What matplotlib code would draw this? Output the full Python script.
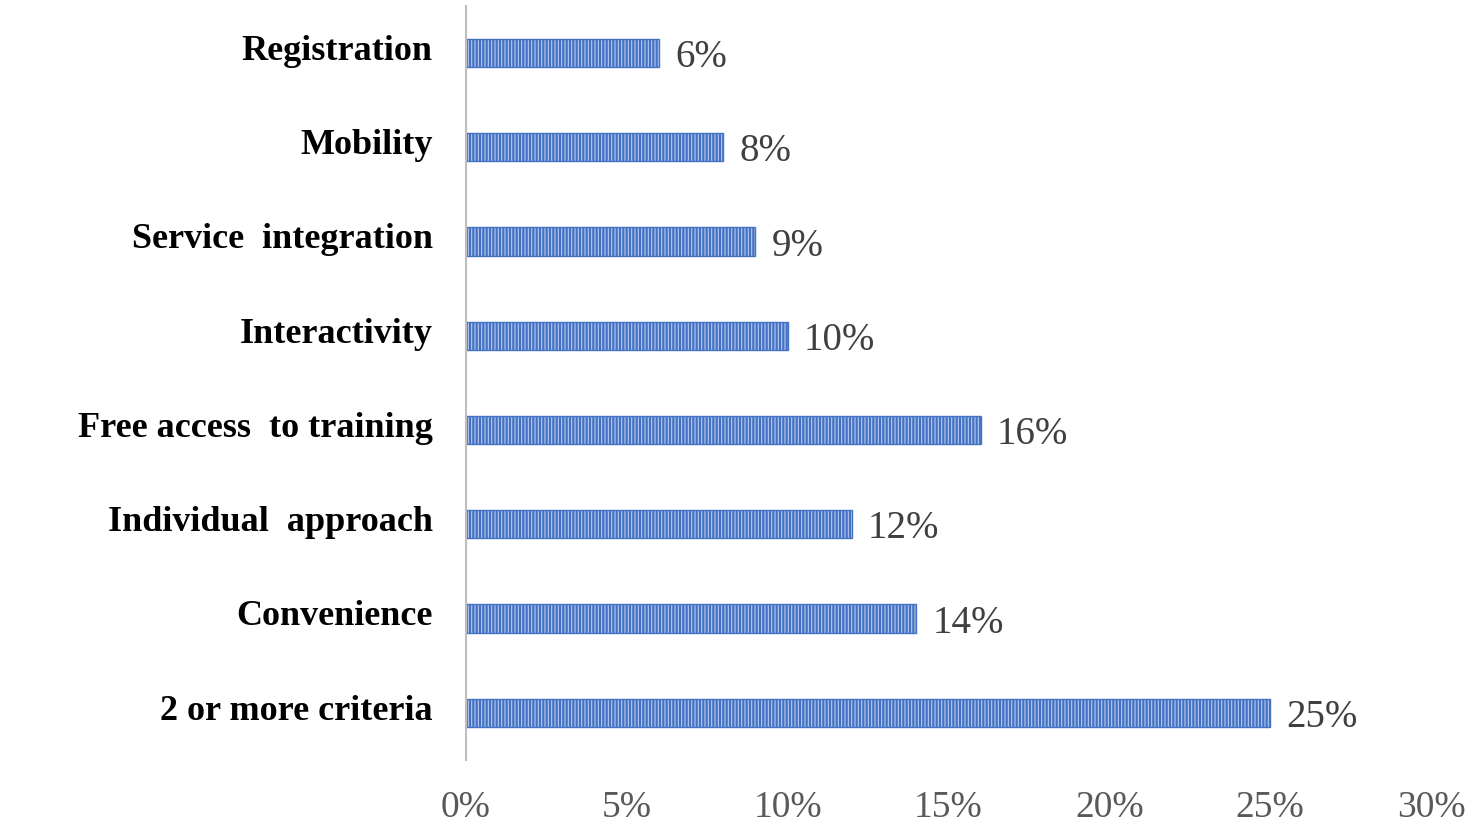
import matplotlib.pyplot as plt
import numpy as np

categories = ['2 or more criteria', 'Convenience', 'Individual  approach',
              'Free access  to training', 'Interactivity', 'Service  integration',
              'Mobility', 'Registration']
values = [25, 14, 12, 16, 10, 9, 8, 6]
xticks = [0, 5, 10, 15, 20, 25, 30]

plt.rcParams['font.family'] = ['Liberation Serif', 'DejaVu Serif']
plt.rcParams['hatch.linewidth'] = 0.8

fig = plt.figure(figsize=(14.76, 8.26), dpi=100)
ax = fig.add_axes([0.3157, 0.080, 0.6538, 0.913])

y = np.arange(len(categories))
ax.barh(y, values, height=0.3, color='#4472c4', edgecolor='#b8cbef',
        hatch='|||||', linewidth=0)
ax.barh(y, values, height=0.3, facecolor='none', edgecolor='#4472c4',
        linewidth=1.0)

for yi, v in zip(y, values):
    ax.text(v + 0.5, yi - 0.05, f'{v}%', va='center', ha='left',
            fontsize=28, color='#404040')

# category labels, sitting a little above the bar centres
for yi, name in zip(y, categories):
    ax.annotate(name, xy=(0, yi), xycoords=('axes fraction', 'data'),
                xytext=(-24, 4), textcoords='offset points',
                ha='right', va='center_baseline', fontsize=26,
                fontweight='bold', color='black')

ax.set_xlim(0, 30)
ax.set_ylim(-0.5, 7.5)
ax.set_yticks([])
ax.set_xticks(xticks)
ax.set_xticklabels([f'{t}%' for t in xticks], fontsize=27, color='#595959')
ax.tick_params(axis='both', length=0)
ax.tick_params(axis='x', pad=22)

for s in ['top', 'right', 'bottom']:
    ax.spines[s].set_visible(False)
ax.spines['left'].set_color('#bfbfbf')
ax.spines['left'].set_linewidth(1.5)

fig.savefig('out.png', dpi=100)
